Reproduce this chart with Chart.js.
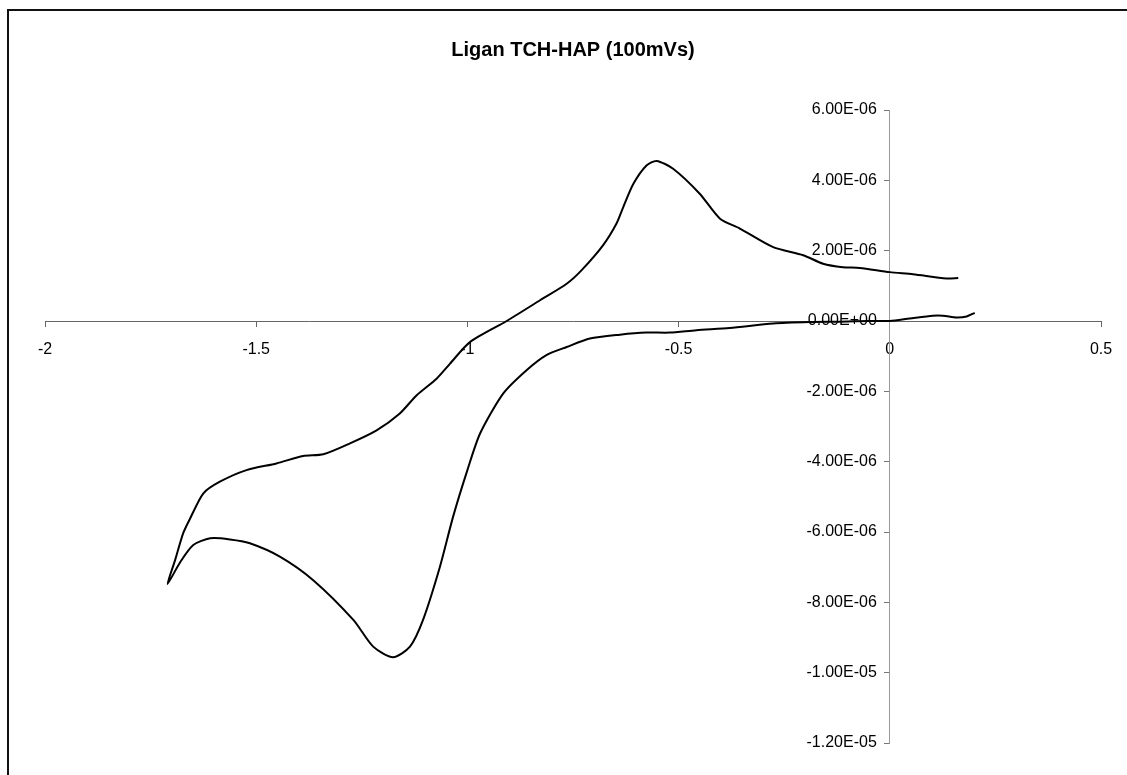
<!DOCTYPE html>
<html>
<head>
<meta charset="utf-8">
<title>Ligan TCH-HAP (100mVs)</title>
<script src="https://cdn.jsdelivr.net/npm/chart.js@4.4.1/dist/chart.umd.min.js"></script>
<style>
  html, body { margin: 0; padding: 0; background: #fff; }
  .wrap { position: relative; width: 1127px; height: 775px; overflow: hidden; }
  .frame { position: absolute; left: 7px; top: 9px; width: 1130px; height: 780px;
           border-left: 2px solid #111; border-top: 2px solid #111; }
  canvas { position: absolute; left: 0; top: 0; }
</style>
</head>
<body>
<div class="wrap">
  <div class="frame"></div>
  <canvas id="cvChart" width="1127" height="775"></canvas>
</div>
<script>
/* ------------------------------------------------------------
   DATA – cyclic voltammogram
   potential in V, current in µA (converted to A for plotting)
   ------------------------------------------------------------ */
const chartTitle = 'Ligan TCH-HAP (100mVs)';

// cathodic sweep: from +0.2 V down to the -1.71 V vertex
const potentialCathodic = [0.201, 0.182, 0.158, 0.126, 0.102, 0.047, 0, -0.047, -0.118, -0.189,
  -0.276, -0.379, -0.458, -0.521, -0.576, -0.639, -0.710, -0.765, -0.813, -0.860,
  -0.915, -0.970, -1.000, -1.034, -1.065, -1.105, -1.136, -1.176, -1.223, -1.270,
  -1.365, -1.444, -1.515, -1.562, -1.609, -1.649, -1.680, -1.710];
const currentCathodic = [0.23, 0.13, 0.10, 0.15, 0.15, 0.07, 0, 0, -0.02, -0.03,
  -0.07, -0.20, -0.26, -0.33, -0.33, -0.39, -0.50, -0.74, -0.97, -1.40,
  -2.06, -3.20, -4.24, -5.57, -6.99, -8.50, -9.26, -9.56, -9.26, -8.50,
  -7.37, -6.70, -6.32, -6.21, -6.18, -6.37, -6.86, -7.48];

// anodic sweep: back from the vertex up to +0.16 V
const potentialAnodic = [-1.692, -1.673, -1.657, -1.625, -1.586, -1.523, -1.452, -1.389, -1.341, -1.278,
  -1.215, -1.160, -1.120, -1.073, -1.041, -0.994, -0.907, -0.828, -0.765, -0.730,
  -0.679, -0.647, -0.631, -0.607, -0.576, -0.552, -0.513, -0.450, -0.402, -0.355,
  -0.276, -0.205, -0.158, -0.111, -0.071, 0, 0.055, 0.134, 0.162];
const currentAnodic = [-6.80, -6.04, -5.63, -4.90, -4.57, -4.24, -4.05, -3.84, -3.79, -3.48,
  -3.11, -2.63, -2.11, -1.64, -1.21, -0.60, 0, 0.59, 1.06, 1.44,
  2.15, 2.77, 3.24, 3.90, 4.42, 4.55, 4.33, 3.62, 2.91, 2.63,
  2.10, 1.87, 1.63, 1.53, 1.51, 1.39, 1.33, 1.21, 1.22];

// axis ranges / steps
const xRange = [-2, 0.5];
const xStep = 0.5;
const yRange = [-1.2e-5, 6e-6];
const yStep = 2e-6;

/* ------------------------------------------------------------
   HELPERS
   ------------------------------------------------------------ */
// Excel style scientific label: 6.00E-06, 0.00E+00, -1.20E-05
function sciLabel(v) {
  if (Math.abs(v) < 1e-15) v = 0;
  const [mant, exp] = v.toExponential(2).split('e');
  const sign = exp[0];
  const digits = exp.slice(1).padStart(2, '0');
  return `${mant}E${sign}${digits}`;
}

function plainLabel(v) {
  return String(Math.round(v * 100) / 100);
}

const potential = potentialCathodic.concat(potentialAnodic);
const current = currentCathodic.concat(currentAnodic);
const points = potential.map((x, i) => ({ x, y: current[i] * 1e-6 }));

// y axis sits at x = 0; move its labels clear of the tick marks
const yLabelShift = {
  id: 'yLabelShift',
  beforeDraw(chart) {
    chart.scales.y.getLabelItems().forEach(item => {
      if (!item.shifted) {
        item.options.translation[0] -= 13;
        item.shifted = true;
      }
    });
  },
};

/* ------------------------------------------------------------
   CHART
   ------------------------------------------------------------ */
const fontFamily = '"Liberation Sans", Arial, sans-serif';

new Chart(document.getElementById('cvChart'), {
  type: 'scatter',
  data: {
    datasets: [{
      data: points,
      showLine: true,
      borderColor: '#000',
      borderWidth: 2,
      pointRadius: 0,
      tension: 0.25,
      fill: false,
    }],
  },
  options: {
    responsive: false,
    animation: false,
    layout: { padding: { left: 45, right: 26, top: 0, bottom: 32 } },
    plugins: {
      legend: { display: false },
      tooltip: { enabled: false },
      title: {
        display: true,
        text: chartTitle,
        fullSize: false,
        color: '#000',
        font: { family: fontFamily, size: 20, weight: 'bold' },
        padding: { top: 38, bottom: 48 },
      },
    },
    scales: {
      x: {
        type: 'linear',
        min: xRange[0],
        max: xRange[1],
        position: { y: 0 },
        grid: { drawOnChartArea: false, drawTicks: true, tickLength: 5, color: '#666' },
        border: { display: true, color: '#666', width: 1 },
        ticks: {
          stepSize: xStep,
          autoSkip: false,
          maxRotation: 0,
          padding: 14,
          color: '#000',
          font: { family: fontFamily, size: 16 },
          callback: plainLabel,
        },
      },
      y: {
        type: 'linear',
        min: yRange[0],
        max: yRange[1],
        position: { x: 0 },
        grid: { drawOnChartArea: false, drawTicks: true, tickLength: 5, color: '#777' },
        border: { display: true, color: '#999', width: 1, dash: [2, 2] },
        ticks: {
          stepSize: yStep,
          autoSkip: false,
          padding: 7,
          color: '#000',
          font: { family: fontFamily, size: 16 },
          callback: sciLabel,
        },
      },
    },
  },
  plugins: [yLabelShift],
});
</script>
</body>
</html>
